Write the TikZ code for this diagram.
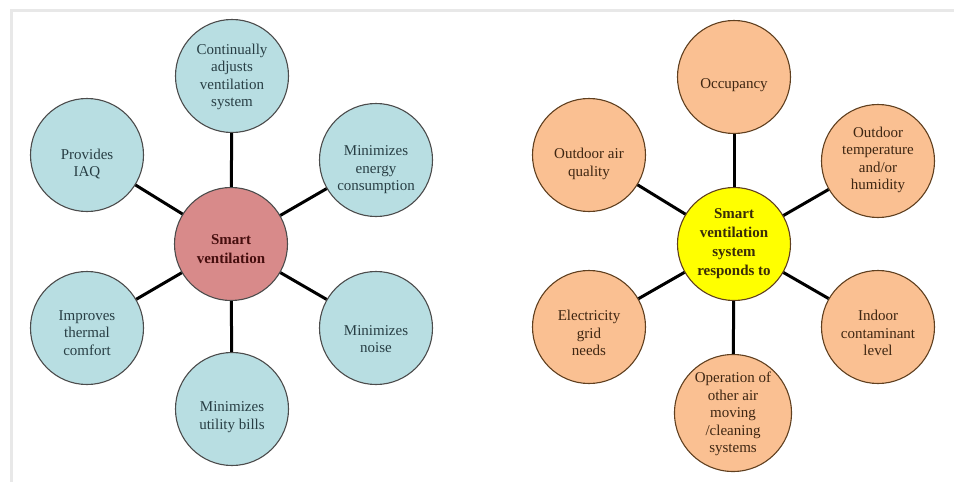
\documentclass[tikz,border=0pt]{standalone}
\usepackage{fontspec}
\setmainfont{Liberation Serif}
\usepackage{xcolor}
\usepackage{tikz}
\usetikzlibrary{positioning}

\definecolor{tealfill}{RGB}{184,222,226}
\definecolor{pinkfill}{RGB}{216,138,138}
\definecolor{peachfill}{RGB}{250,192,146}
\definecolor{sunfill}{RGB}{255,255,0}
\definecolor{slatetext}{RGB}{40,62,68}
\definecolor{browntext}{RGB}{62,38,18}
\definecolor{maroontext}{RGB}{70,14,14}
\definecolor{olivetext}{RGB}{58,44,8}
\definecolor{framegray}{RGB}{232,232,232}

\begin{document}
\begin{tikzpicture}[x=1pt,y=-1pt,
	bubble/.style={circle,draw=#1,line width=1.1pt,minimum size=113pt,inner sep=0pt},
	spoke/.style={line width=3pt,black},
	txt/.style={align=center,font=\fontsize{15}{17.5}\selectfont},
	hubtxt/.style={align=center,font=\fontsize{15}{19}\selectfont\bfseries}]
	\useasboundingbox (0,0) rectangle (954,482);
	% frame of the page
	\draw[framegray,line width=3pt] (11.5,482) -- (11.5,10) -- (954,10);

	% left wheel
	\node[bubble=gray!60!black,fill=pinkfill] (L) at (231,244) {};
	\node[bubble=gray!60!black,fill=tealfill] (L1) at (232,76) {};
	\node[bubble=gray!60!black,fill=tealfill] (L2) at (376,160) {};
	\node[bubble=gray!60!black,fill=tealfill] (L3) at (376,328) {};
	\node[bubble=gray!60!black,fill=tealfill] (L4) at (232,409) {};
	\node[bubble=gray!60!black,fill=tealfill] (L5) at (87,328) {};
	\node[bubble=gray!60!black,fill=tealfill] (L6) at (87,155) {};
	\foreach \n in {1,...,6}
		\draw[spoke] (L) -- (L\n);
	\node[hubtxt,text=maroontext] (tL) at (231,249) {Smart\\ventilation};
	\node[txt,text=slatetext] (tL1) at (232,77) {Continually\\adjusts\\ventilation\\system};
	\node[txt,text=slatetext] (tL2) at (376,170) {Minimizes\\energy\\consumption};
	\node[txt,text=slatetext] (tL3) at (376,339) {Minimizes\\noise};
	\node[txt,text=slatetext] (tL4) at (232,417) {Minimizes\\utility bills};
	\node[txt,text=slatetext] (tL5) at (87,333) {Improves\\thermal\\comfort};
	\node[txt,text=slatetext] (tL6) at (87,164) {Provides\\IAQ};

	% right wheel
	\node[bubble=brown!50!black,fill=sunfill] (R) at (734,244) {};
	\node[bubble=brown!50!black,fill=peachfill] (R1) at (734,77) {};
	\node[bubble=brown!50!black,fill=peachfill] (R2) at (878,161) {};
	\node[bubble=brown!50!black,fill=peachfill] (R3) at (878,327) {};
	\node[bubble=brown!50!black,fill=peachfill,minimum size=117pt] (R4) at (733,413) {};
	\node[bubble=brown!50!black,fill=peachfill] (R5) at (589,327) {};
	\node[bubble=brown!50!black,fill=peachfill] (R6) at (589,155) {};
	\foreach \n in {1,...,6}
		\draw[spoke] (R) -- (R\n);
	\node[hubtxt,text=olivetext] (tR) at (734,244) {Smart\\ventilation\\system\\responds to};
	\node[txt,text=browntext] (tR1) at (734,85) {Occupancy};
	\node[txt,text=browntext] (tR2) at (878,160) {Outdoor\\temperature\\and/or\\humidity};
	\node[txt,text=browntext] (tR3) at (878,333) {Indoor\\contaminant\\level};
	\node[txt,text=browntext] (tR4) at (733,414) {Operation of\\other air\\moving\\/cleaning\\systems};
	\node[txt,text=browntext] (tR5) at (589,333) {Electricity\\grid\\needs};
	\node[txt,text=browntext] (tR6) at (589,164) {Outdoor air\\quality};
\end{tikzpicture}
\end{document}
